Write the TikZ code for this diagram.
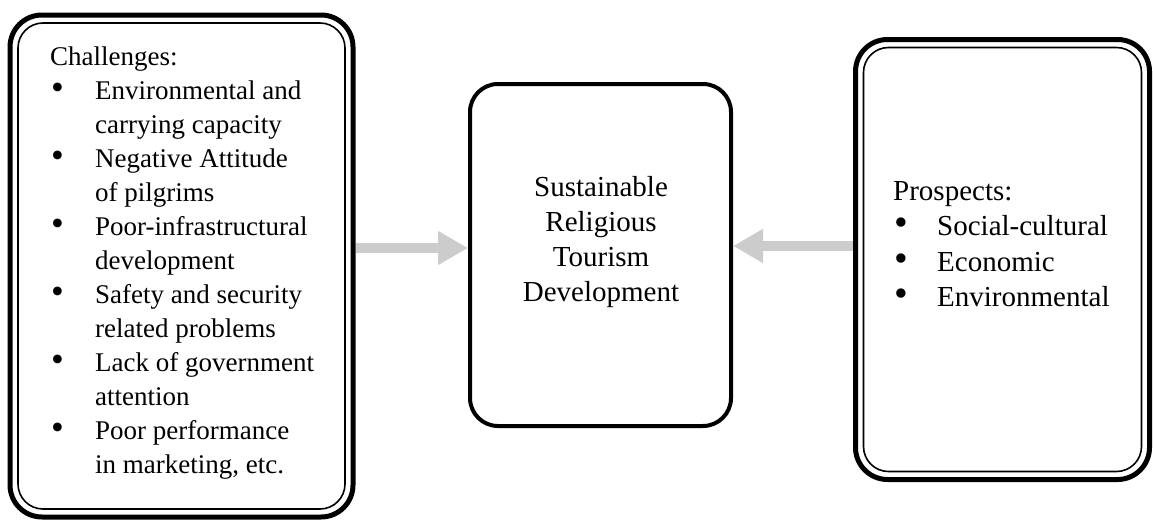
\documentclass[tikz,border=0pt]{standalone}
\usepackage{fontspec}
\setmainfont{Liberation Serif}
\usetikzlibrary{arrows.meta,positioning}

\tikzset{
	box/.style={draw,line width=5pt,rounded corners=32pt,outer sep=0pt,inner sep=0pt},
	midbox/.style={box,line width=4pt,rounded corners=28pt},
	inbox/.style={draw,line width=1.6pt,rounded corners=25pt},
	flow/.style={draw=gray!40,line width=10pt,-{Triangle[length=30pt,width=32pt]},shorten <=2.5pt,shorten >=2pt},
	txt/.style={inner sep=0pt,align=left,anchor=north west}
}
\newcommand{\pnt}[1]{\makebox[#1][l]{\scalebox{1.35}{\textbullet}}}

\begin{document}
\begin{tikzpicture}[x=1pt,y=-1pt]
\useasboundingbox (0,0) rectangle (1153,522);
% boxes
\node[box,minimum width=343pt,minimum height=502pt] (chal) at (181.5,266) {};
\node[midbox,minimum width=261pt,minimum height=342pt] (sus) at (600.5,255) {};
\node[box,minimum width=294pt,minimum height=440pt] (pros) at (1002.5,259.5) {};
\draw[inbox] ([shift={(8,8)}]chal.north west) rectangle ([shift={(-8,-8)}]chal.south east);
\draw[inbox] ([shift={(8,8)}]pros.north west) rectangle ([shift={(-8,-8)}]pros.south east);
% texts
\node[txt,font=\fontsize{27}{34}\selectfont] (chaltxt) at (50,47) {Challenges:\\
\hspace*{1pt}\pnt{44pt}Environmental and\\
\hspace*{45pt}carrying capacity\\
\hspace*{1pt}\pnt{44pt}Negative Attitude\\
\hspace*{45pt}of pilgrims\\
\hspace*{1pt}\pnt{44pt}Poor-infrastructural\\
\hspace*{45pt}development\\
\hspace*{1pt}\pnt{44pt}Safety and security\\
\hspace*{45pt}related problems\\
\hspace*{1pt}\pnt{44pt}Lack of government\\
\hspace*{45pt}attention\\
\hspace*{1pt}\pnt{44pt}Poor performance\\
\hspace*{45pt}in marketing, etc.};
\node[font=\fontsize{29}{35}\selectfont,align=center,inner sep=0pt] (sustxt) at (601,242) {Sustainable\\Religious\\Tourism\\Development};
\node[txt,font=\fontsize{29}{35.5}\selectfont] (prostxt) at (893,181) {Prospects:\\
\hspace*{1pt}\pnt{43pt}Social-cultural\\
\hspace*{1pt}\pnt{43pt}Economic\\
\hspace*{1pt}\pnt{43pt}Environmental};
% arrows
\coordinate (lvl) at (0,248);
\coordinate (rvl) at (0,246);
\draw[flow] (chal.east |- lvl) -- (sus.west |- lvl);
\draw[flow] (pros.west |- rvl) -- (sus.east |- rvl);
\end{tikzpicture}
\end{document}
